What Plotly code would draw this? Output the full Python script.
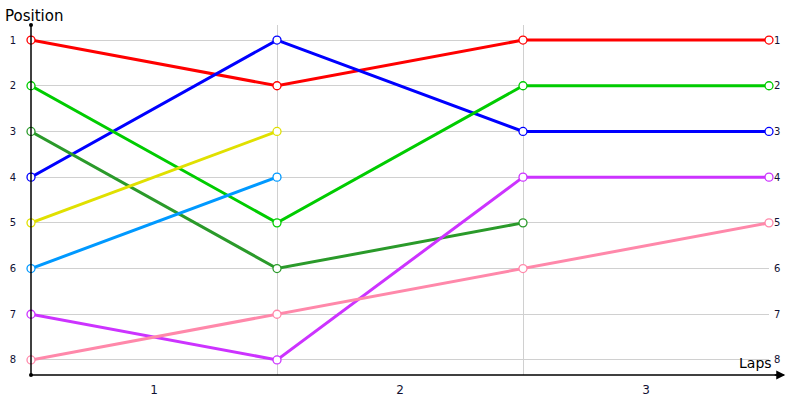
import plotly.graph_objects as go

# lap boundaries (0 = start)
laps = [0, 1, 2, 3]
lap_labels = ["1", "2", "3"]
positions = [1, 2, 3, 4, 5, 6, 7, 8]

# position of each driver at each lap boundary
red = [1, 2, 1, 1]
blue = [4, 1, 3, 3]
green = [2, 5, 2, 2]
dark_green = [3, 6, 5]
yellow = [5, 3]
light_blue = [6, 4]
purple = [7, 8, 4, 4]
pink = [8, 7, 6, 5]

series = [
    (red, "#ff0000"),
    (blue, "#0000ff"),
    (green, "#00cc00"),
    (dark_green, "#2a9a2a"),
    (yellow, "#e0e000"),
    (light_blue, "#0099ff"),
    (purple, "#cc33ff"),
    (pink, "#ff88aa"),
]

fig = go.Figure()
for vals, col in series:
    fig.add_trace(go.Scatter(
        x=laps[:len(vals)], y=vals,
        mode="lines+markers",
        line=dict(color=col, width=3),
        marker=dict(size=8, color="white", line=dict(color=col, width=1.3)),
        showlegend=False,
        cliponaxis=False,
    ))

# invisible trace for right-hand labels
fig.add_trace(go.Scatter(x=[0], y=[1], yaxis="y2", mode="markers",
                         marker=dict(opacity=0), showlegend=False, hoverinfo="skip"))

tick_font = dict(family="DejaVu Sans", size=10, color="#111133")

fig.update_layout(
    width=800, height=400,
    margin=dict(l=31, r=31, t=25, b=25),
    plot_bgcolor="white",
    paper_bgcolor="white",
    xaxis=dict(
        range=[0, 3], automargin=False,
        tickvals=[0.5, 1.5, 2.5], ticktext=lap_labels,
        showgrid=False, zeroline=False,
        showline=False, ticks="outside", ticklen=4, tickcolor="rgba(0,0,0,0)",
        tickfont=dict(family="DejaVu Sans", size=12, color="#111133"),
        minor=dict(tickvals=[1, 2, 3], showgrid=True, gridcolor="#d0d0d0", gridwidth=1),
    ),
    yaxis=dict(
        range=[8.33, 0.67], automargin=False,
        tickvals=positions,
        showgrid=True, gridcolor="#d0d0d0", gridwidth=1,
        zeroline=False, showline=False, ticks="outside",
        ticklen=12, tickcolor="rgba(0,0,0,0)",
        tickfont=tick_font,
    ),
    yaxis2=dict(
        range=[8.33, 0.67], automargin=False,
        overlaying="y", side="right",
        tickvals=positions,
        showgrid=False, zeroline=False, showline=False,
        ticks="outside", ticklen=2, tickcolor="rgba(0,0,0,0)",
        tickfont=tick_font,
    ),
    shapes=[
        dict(type="line", xref="paper", yref="paper", x0=0, x1=0, y0=0, y1=1.0,
             line=dict(color="black", width=1.5)),
        dict(type="line", xref="paper", yref="paper", x0=0, x1=1.02, y0=0, y1=0,
             line=dict(color="black", width=1.5)),
        dict(type="circle", xref="paper", yref="paper", xsizemode="pixel", ysizemode="pixel",
             xanchor=0, yanchor=1, x0=-2, x1=2, y0=-2, y1=2,
             fillcolor="black", line=dict(width=0)),
        dict(type="circle", xref="paper", yref="paper", xsizemode="pixel", ysizemode="pixel",
             xanchor=0, yanchor=0, x0=-2, x1=2, y0=-2, y1=2,
             fillcolor="black", line=dict(width=0)),
    ],
    annotations=[
        dict(text="Position", xref="paper", yref="paper", x=0, y=1, xshift=-28, yshift=-2,
             xanchor="left", yanchor="bottom", showarrow=False,
             font=dict(family="DejaVu Sans", size=15, color="black")),
        dict(text="Laps", xref="paper", yref="paper", x=1, y=0, xshift=5, yshift=2,
             xanchor="right", yanchor="bottom", showarrow=False,
             font=dict(family="DejaVu Sans", size=14, color="black")),
        dict(text="", xref="paper", yref="paper", x=1.022, y=0, ax=-12, ay=0,
             showarrow=True, arrowhead=2, arrowsize=1.2, arrowwidth=1.5, arrowcolor="black"),
    ],
)

fig.write_html("out.html", config={"displayModeBar": False},
               post_script="document.body.style.margin='0';")
